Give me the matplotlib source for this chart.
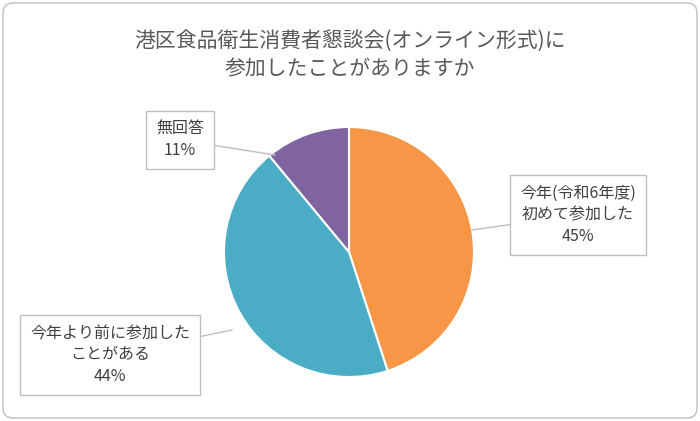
import matplotlib
matplotlib.use("Agg")
import matplotlib.pyplot as plt
from matplotlib.patches import FancyBboxPatch

plt.rcParams["font.family"] = "Noto Sans CJK JP"

labels = ["今年(令和6年度)\n初めて参加した\n45%", "今年より前に参加した\nことがある\n44%", "無回答\n11%"]
values = [45, 44, 11]
colors = ["#F79646", "#4BACC6", "#8064A2"]
title = "港区食品衛生消費者懇談会(オンライン形式)に\n参加したことがありますか"

W, H = 700, 421
fig = plt.figure(figsize=(7, 4.21), dpi=100)
ax = fig.add_axes([0, 0, 1, 1])
ax.set_xlim(0, W); ax.set_ylim(0, H); ax.axis("off")

ax.add_patch(FancyBboxPatch((3, 3), W - 6, H - 6, boxstyle="round,pad=0,rounding_size=10",
                            fc="white", ec="#BFBFBF", lw=1))

cx, cy, r = 349, H - 252, 125
wedges, _ = ax.pie(values, colors=colors, startangle=90, counterclock=False,
                   center=(cx, cy), radius=r, frame=True,
                   wedgeprops=dict(edgecolor="white", linewidth=1.5))
ax.set_xlim(0, W); ax.set_ylim(0, H); ax.axis("off")

ax.text(W / 2, H - 55, title, ha="center", va="center", fontsize=15, color="#595959",
        linespacing=1.4)

# label boxes: (text center, anchor on pie)
boxes = [((578, H - 215), (472, H - 230)), ((110, H - 355), (232, H - 330)), ((180, H - 140), (275, H - 155))]
for lab, ((tx, ty), (ax_, ay)) in zip(labels, boxes):
    ax.plot([ax_, tx], [ay, ty], color="#BFBFBF", lw=1, zorder=1)
    ax.text(tx, ty, lab, ha="center", va="center", fontsize=11.5, color="#404040",
            linespacing=1.35, zorder=3,
            bbox=dict(boxstyle="square,pad=0.6", fc="white", ec="#BFBFBF", lw=1))

fig.savefig("out.png", dpi=100)
